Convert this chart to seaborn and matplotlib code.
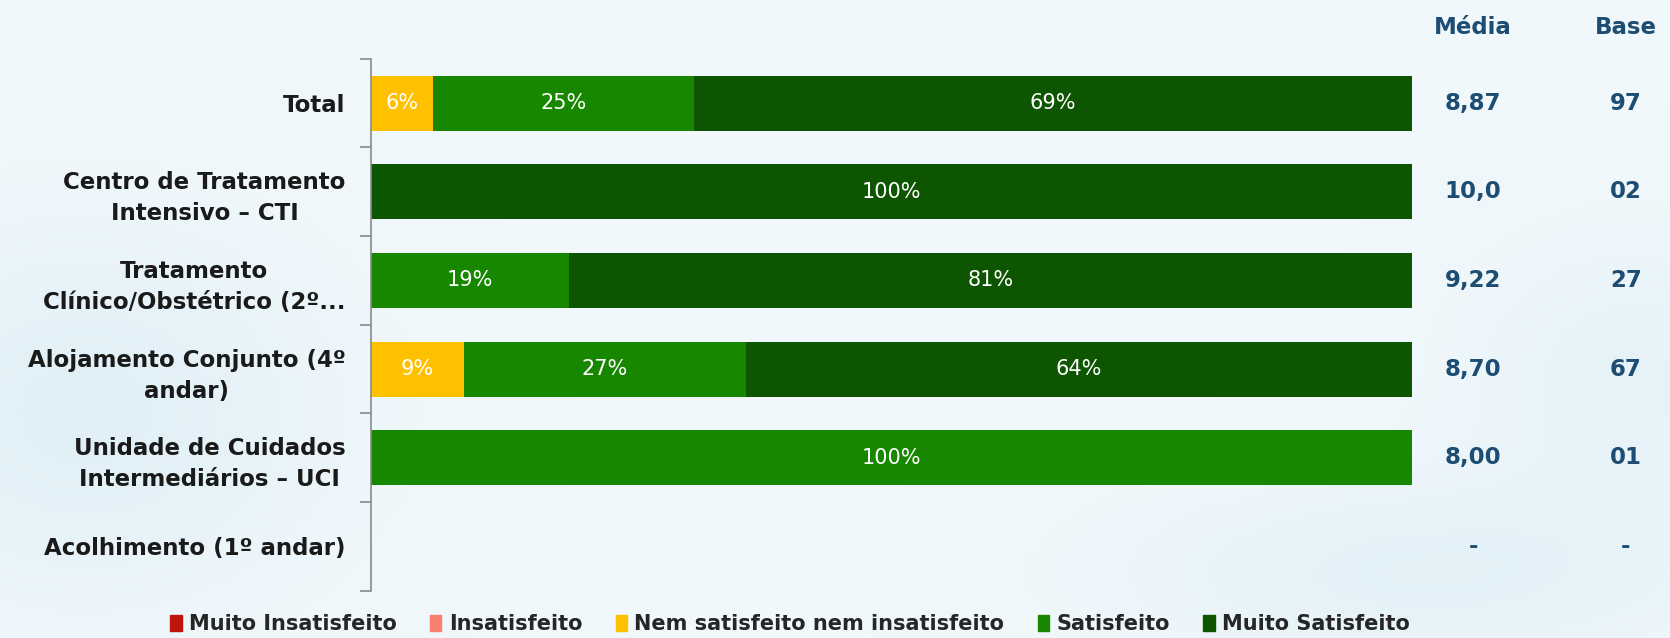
import seaborn as sns
import matplotlib.pyplot as plt
import matplotlib.patches as mpatches
import matplotlib.transforms as mtransforms
import pandas as pd
import numpy as np

# -----------------------------
# Data
# -----------------------------
categories = [
    "Total",
    "Centro de Tratamento\nIntensivo – CTI",
    "Tratamento\nClínico/Obstétrico (2º...",
    "Alojamento Conjunto (4º\nandar)",
    "Unidade de Cuidados\nIntermediários – UCI",
    "Acolhimento (1º andar)",
]
levels = ["Muito Insatisfeito", "Insatisfeito", "Nem satisfeito nem insatisfeito",
          "Satisfeito", "Muito Satisfeito"]
colors = ["#C0150C", "#F8806E", "#FFC000", "#178700", "#0D5500"]

muito_insatisfeito = [0, 0, 0, 0, 0, 0]
insatisfeito = [0, 0, 0, 0, 0, 0]
nem = [6, 0, 0, 9, 0, 0]
satisfeito = [25, 0, 19, 27, 100, 0]
muito_satisfeito = [69, 100, 81, 64, 0, 0]

media = ["8,87", "10,0", "9,22", "8,70", "8,00", "-"]
base = ["97", "02", "27", "67", "01", "-"]

values = np.array([muito_insatisfeito, insatisfeito, nem, satisfeito, muito_satisfeito])
cum = values.cumsum(axis=0)

df = pd.DataFrame({"Categoria": categories})
for i, lvl in enumerate(levels):
    df[lvl] = values[i]
    df["cum_" + lvl] = cum[i]

# -----------------------------
# Plot
# -----------------------------
sns.set_style("white")
bg = "#F0F7FB"
fig = plt.figure(figsize=(16.7, 6.38), dpi=100, facecolor=bg)

# faint background gradient
bgax = fig.add_axes([0, 0, 1, 1], zorder=-1)
yy, xx = np.mgrid[0:1:200j, 0:1:400j]
shade = np.exp(-((xx - 0.05) ** 2 / 0.02 + (yy - 0.35) ** 2 / 0.08)) * 0.6
shade += np.exp(-((xx - 0.85) ** 2 / 0.03 + (yy - 0.1) ** 2 / 0.02)) * 0.5
shade += np.exp(-((xx - 0.98) ** 2 / 0.01 + (yy - 0.4) ** 2 / 0.05)) * 0.4
base_rgb = np.array([0.945, 0.973, 0.985])
tint_rgb = np.array([0.84, 0.92, 0.96])
img = base_rgb + (tint_rgb - base_rgb) * np.clip(shade, 0, 1)[..., None]
bgax.imshow(img, aspect="auto", extent=[0, 1, 0, 1], origin="lower")
bgax.axis("off")

ax = fig.add_axes([0.222, 0.074, 0.6235, 0.834])
ax.patch.set_alpha(0)

# stacked bars: draw cumulative totals, largest first
for i in range(len(levels) - 1, -1, -1):
    sns.barplot(data=df, x="cum_" + levels[i], y="Categoria", order=categories,
                color=colors[i], orient="h", width=0.62, saturation=1,
                linewidth=0, ax=ax)

# segment labels
for r, cat in enumerate(categories):
    left = 0
    for i, lvl in enumerate(levels):
        v = values[i][r]
        if v > 0:
            ax.text(left + v / 2, r, f"{v}%", ha="center", va="center",
                    color="white", fontsize=15)
        left += v

ax.set_xlim(0, 100)
ax.set_ylim(5.5, -0.5)
ax.set_xlabel("")
ax.set_ylabel("")
ax.set_xticks([])
for s in ["top", "right", "bottom"]:
    ax.spines[s].set_visible(False)
ax.spines["left"].set_color("#8A8A8A")
ax.spines["left"].set_linewidth(1.2)
ax.tick_params(axis="y", which="major", length=0, pad=18, left=False)
ax.set_yticks(np.arange(-0.5, 6, 1), minor=True)
ax.tick_params(axis="y", which="minor", length=8, color="#8A8A8A", width=1.2,
               left=True, direction="out")
for lab in ax.get_yticklabels():
    lab.set_fontweight("bold")
    lab.set_fontsize(16.5)
    lab.set_multialignment("center")
    lab.set_linespacing(1.45)
    lab.set_color("#1A1A1A")

# Média / Base columns
txt_col = "#1D4D72"
fig.text(1473 / 1670, 1 - 27 / 638, "Média", ha="center", va="center",
         fontsize=16.5, fontweight="bold", color=txt_col)
fig.text(1626 / 1670, 1 - 27 / 638, "Base", ha="center", va="center",
         fontsize=16.5, fontweight="bold", color=txt_col)
trans = mtransforms.blended_transform_factory(fig.transFigure, ax.transData)
for r in range(len(categories)):
    ax.text(1473 / 1670, r, media[r], transform=trans, ha="center", va="center",
            fontsize=16.5, fontweight="bold", color=txt_col)
    ax.text(1626 / 1670, r, base[r], transform=trans, ha="center", va="center",
            fontsize=16.5, fontweight="bold", color=txt_col)

# legend
handles = [mpatches.Patch(color=c, label=l) for c, l in zip(colors, levels)]
fig.legend(handles=handles, loc="center", bbox_to_anchor=(790 / 1670, 1 - 624 / 638),
           ncol=5, frameon=False, handlelength=0.55, handleheight=0.8,
           handletextpad=0.35, columnspacing=1.6,
           prop={"weight": "bold", "size": 15})

plt.savefig("out.png", dpi=100, facecolor=bg)
plt.close()
